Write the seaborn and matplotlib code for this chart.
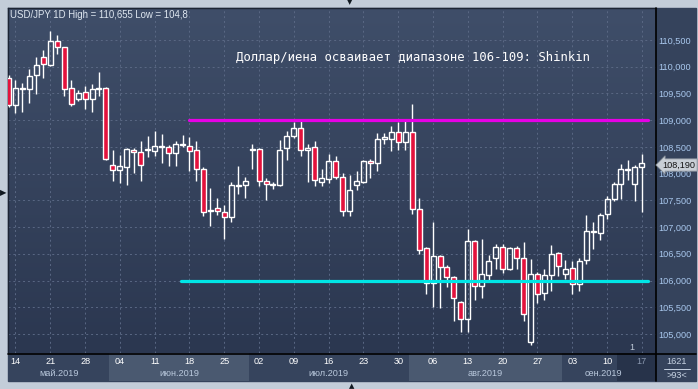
import numpy as np
import pandas as pd
import seaborn as sns
import matplotlib.pyplot as plt
from matplotlib.patches import Rectangle
from matplotlib.lines import Line2D
from matplotlib.colors import LinearSegmentedColormap

# daily USD/JPY candles, 13 May - 17 Sep 2019
dates = pd.bdate_range("2019-05-13", "2019-09-17")
opens = [109.78, 109.29, 109.59, 109.59, 109.85, 110.19, 110.04, 110.48, 110.36, 109.60,
         109.40, 109.52, 109.39, 109.59, 109.61, 108.17, 108.06, 108.13, 108.45, 108.40,
         108.44, 108.43, 108.49, 108.49, 108.38, 108.53, 108.52, 108.45, 108.08, 107.30,
         107.35, 107.29, 107.18, 107.77, 107.78, 108.45, 108.46, 107.87, 107.79, 107.79,
         108.48, 108.71, 108.85, 108.45, 108.49, 107.85, 107.90, 108.24, 107.93, 107.30,
         107.78, 107.85, 108.24, 108.19, 108.64, 108.64, 108.77, 108.60, 108.77, 107.33,
         106.61, 105.95, 106.46, 106.25, 106.06, 105.60, 105.28, 106.74, 105.89, 106.11,
         106.43, 106.62, 106.21, 106.61, 106.42, 104.85, 106.12, 105.76, 106.10, 106.51,
         106.12, 106.23, 105.93, 106.38, 106.91, 106.89, 107.24, 107.52, 107.80, 108.07,
         107.80, 108.12]
highs = [109.85, 109.76, 109.70, 109.95, 110.19, 110.31, 110.66, 110.60, 110.37, 109.75,
         109.57, 109.64, 109.67, 109.91, 109.63, 108.44, 108.35, 108.48, 108.48, 108.61,
         108.70, 108.79, 108.74, 108.53, 108.61, 108.72, 108.68, 108.61, 108.13, 107.73,
         107.54, 107.41, 107.84, 108.14, 107.94, 108.55, 108.48, 107.91, 107.85, 108.63,
         108.79, 108.96, 109.00, 108.55, 108.61, 108.09, 108.37, 108.33, 108.01, 107.97,
         108.05, 108.25, 108.28, 108.76, 108.76, 108.89, 108.96, 108.98, 109.30, 107.54,
         106.62, 107.10, 106.48, 106.29, 106.08, 105.61, 106.97, 106.76, 106.78, 106.48,
         106.69, 106.68, 106.63, 106.65, 106.72, 106.41, 106.16, 106.22, 106.67, 106.53,
         106.39, 106.37, 106.43, 107.23, 107.10, 107.27, 107.58, 107.84, 108.18, 108.25,
         108.16, 108.37]
lows = [109.25, 109.14, 109.15, 109.32, 109.49, 109.79, 110.01, 110.24, 109.45, 109.27,
        109.35, 109.21, 109.15, 109.45, 108.26, 107.86, 107.83, 107.79, 108.02, 107.86,
        108.32, 108.33, 108.20, 108.14, 108.14, 108.50, 108.05, 107.87, 107.20, 107.02,
        107.23, 106.78, 107.10, 107.62, 107.55, 108.09, 107.76, 107.51, 107.71, 107.77,
        108.25, 108.67, 108.33, 107.85, 107.77, 107.77, 107.82, 107.90, 107.20, 107.20,
        107.69, 107.82, 107.92, 108.04, 108.56, 108.43, 108.44, 108.44, 107.24, 106.49,
        105.75, 105.51, 105.48, 105.87, 105.24, 105.03, 105.03, 105.64, 105.68, 106.01,
        106.22, 106.15, 106.19, 106.22, 105.24, 104.80, 105.58, 105.63, 105.81, 106.08,
        106.03, 105.75, 105.81, 106.31, 106.59, 106.75, 107.16, 107.49, 107.52, 107.88,
        107.48, 107.29]
closes = [109.29, 109.61, 109.61, 109.83, 110.04, 110.06, 110.49, 110.36, 109.59, 109.31,
          109.50, 109.39, 109.59, 109.61, 108.27, 108.06, 108.14, 108.46, 108.40, 108.17,
          108.46, 108.51, 108.51, 108.38, 108.55, 108.55, 108.43, 108.08, 107.28, 107.32,
          107.30, 107.18, 107.78, 107.79, 107.86, 108.47, 107.87, 107.81, 107.81, 108.45,
          108.71, 108.85, 108.45, 108.48, 107.89, 107.91, 108.24, 107.93, 107.30, 107.69,
          107.86, 108.24, 108.19, 108.65, 108.68, 108.77, 108.60, 108.77, 107.33, 106.57,
          105.95, 106.46, 106.25, 106.06, 105.67, 105.28, 106.74, 105.89, 106.12, 106.36,
          106.62, 106.21, 106.61, 106.42, 105.38, 106.12, 105.74, 106.10, 106.49, 106.28,
          106.21, 105.93, 106.37, 106.92, 106.93, 107.23, 107.52, 107.80, 108.08, 108.09,
          108.12, 108.19]

price_ticks = [105.0, 105.5, 106.0, 106.5, 107.0, 107.5, 108.0, 108.5, 109.0, 109.5, 110.0, 110.5]
month_names = ["май.2019", "июн.2019", "июл.2019", "авг.2019", "сен.2019"]
# horizontal levels: (price, first candle index, colour)
levels = [(109.0, 25.9, "#e600e6"), (106.0, 24.8, "#00e6e6")]
title = "USD/JPY 1D High = 110,655 Low = 104,8"
note = "Доллар/иена осваивает диапазоне 106-109: Shinkin"
last_price = "108,190"

df = pd.DataFrame({"date": dates, "open": opens, "high": highs, "low": lows, "close": closes})
df["x"] = np.arange(len(df))
df["top"] = df[["open", "close"]].max(axis=1)
df["bot"] = df[["open", "close"]].min(axis=1)
df["up"] = df["close"] >= df["open"]

sns.set_theme(style="dark")
plt.rcParams["font.family"] = ["Liberation Sans", "DejaVu Sans"]

W, H = 698, 389
fig = plt.figure(figsize=(W / 100, H / 100), dpi=100, facecolor="#c3cdd9")


def box(l, t, r, b):
    return [l / W, 1 - b / H, (r - l) / W, (b - t) / H]


def fx(px):
    return px / W


def fy(py):
    return 1 - py / H


# dark chart area behind everything
fig.patches.append(Rectangle((fx(8), fy(381)), (696 - 8) / W, (381 - 8) / H,
                             transform=fig.transFigure, color="#35435c", zorder=-10))

ax = fig.add_axes(box(8, 8, 656, 353))
ax.set_facecolor("none")
bg = LinearSegmentedColormap.from_list("bg", ["#2b3750", "#3f4e69"])
ax.imshow(np.linspace(0, 1, 256).reshape(-1, 1), cmap=bg, origin="lower",
          extent=[0, 1, 0, 1], transform=ax.transAxes, aspect="auto", zorder=0)

# candles: wicks outside bodies, hollow up candles, red down candles
ax.vlines(df.x, df.top, df.high, color="white", lw=1, zorder=3)
ax.vlines(df.x, df.low, df.bot, color="white", lw=1, zorder=3)
ax.bar(df.x, (df.top - df.bot).clip(lower=0.012), bottom=df.bot, width=0.72,
       color=np.where(df.up, "none", "#e3123c"), edgecolor="white", linewidth=1, zorder=4)

for price, start, col in levels:
    sns.lineplot(x=[start, len(df) - 0.1], y=[price, price], color=col, lw=2.3, ax=ax, zorder=5)

ax.set_xlim(-0.072, 93.03)
ax.set_ylim(104.644, 111.099)
ax.set_xticks(df.x[1::5])
ax.set_yticks(price_ticks)
ax.set_yticklabels([f"{v:.3f}".replace(".", ",") for v in price_ticks])
ax.yaxis.tick_right()
ax.tick_params(axis="y", length=0, pad=1.8, labelsize=6.6, labelcolor="#a9c8ee")
ax.tick_params(axis="x", length=0, labelbottom=False)
ax.grid(True, color="#5a6884", linestyle=(0, (2, 3)), lw=0.7)
ax.set_axisbelow(True)
for side in ["top", "left"]:
    ax.spines[side].set_color("#1c2434")
    ax.spines[side].set_linewidth(1)
for side in ["right", "bottom"]:
    ax.spines[side].set_visible(False)

# bottom date axis
bax = fig.add_axes(box(8, 353, 656, 381))
bax.set_facecolor("#36445d")
bax.set_xlim(ax.get_xlim())
bax.set_ylim(0, 1)
bax.set_xticks([])
bax.set_yticks([])
for s in bax.spines.values():
    s.set_visible(False)
groups = df.groupby(df.date.dt.month)
for k, (m, g) in enumerate(groups):
    lo, hi = g.x.min() - 0.5, g.x.max() + 0.5
    if k % 2 == 1:
        bax.axvspan(lo, hi, color="#4a5970", lw=0)
    vis_lo, vis_hi = max(lo, ax.get_xlim()[0]), min(hi, ax.get_xlim()[1])
    bax.text((vis_lo + vis_hi) / 2, 0.25, month_names[k], ha="center", va="center",
             fontsize=6.6, color="#b9c8dc")
bax.axvspan(87.4, 93.1, color="#27334a", lw=0)
for xi, d in zip(df.x[1::5], df.date[1::5]):
    bax.text(xi, 0.68, d.strftime("%d"), ha="center", va="center", fontsize=6.6,
             color="#8a98b0" if xi > 87.4 else "white")

# separators
fig.add_artist(Line2D([fx(656), fx(656)], [fy(8), fy(381)], color="black", lw=1.2))
fig.add_artist(Line2D([fx(8), fx(696)], [fy(353.5), fy(353.5)], color="black", lw=1.2))
fig.add_artist(Line2D([fx(664), fx(690)], [fy(368.5), fy(368.5)], color="#c8d4e4", lw=0.7))

fig.text(fx(677), fy(362), "1621", ha="center", va="center", fontsize=6.6, color="#c8d4e4")
fig.text(fx(677), fy(375), ">93<", ha="center", va="center", fontsize=6.6, color="#c8d4e4")

fig.text(fx(10), fy(15), title, ha="left", va="center", fontsize=6.9, color="#dfe7f0")
fig.text(fx(413), fy(57), note, ha="center", va="center", fontsize=8.8,
         family="DejaVu Sans Mono", color="white")
fig.text(fx(679), fy(165), last_price, ha="center", va="center", fontsize=6.6, color="#151515",
         bbox=dict(boxstyle="larrow,pad=0.18", fc="#c9cfd6", ec="#8a929c", lw=0.6))
fig.text(fx(632), fy(347), "1", ha="center", va="center", fontsize=6.5, color="#c0cad8")

# little arrow marks on the frame
fig.text(fx(3.5), fy(193), "▶", ha="center", va="center", fontsize=6, color="#101820",
         family="DejaVu Sans")
fig.text(fx(350), fy(2.5), "▼", ha="center", va="center", fontsize=5, color="#101820",
         family="DejaVu Sans")
fig.text(fx(352), fy(386), "▲", ha="center", va="center", fontsize=5, color="#101820",
         family="DejaVu Sans")

fig.savefig("out.png", dpi=100, facecolor=fig.get_facecolor())
